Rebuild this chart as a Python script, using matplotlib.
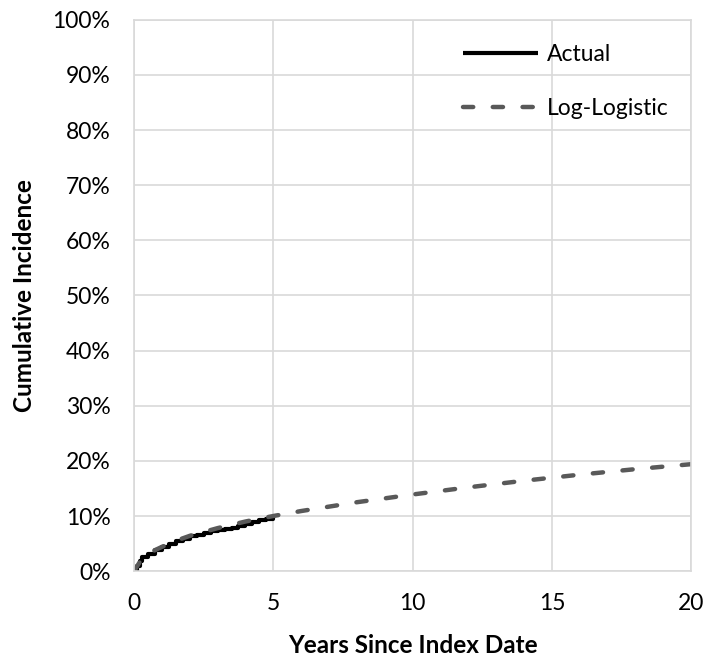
import numpy as np
import matplotlib.pyplot as plt
from matplotlib.ticker import PercentFormatter

plt.rcParams['font.family'] = ['Lato', 'DejaVu Sans']

# Observed cumulative incidence (years, %)
actual_years = [0, 0.1, 0.2, 0.3, 0.5, 0.75, 1.0, 1.25, 1.5, 1.75, 2.0, 2.25, 2.5,
                2.75, 3.0, 3.25, 3.5, 3.75, 4.0, 4.25, 4.5, 4.75, 5.0]
actual_pct = [0, 1.0, 1.8, 2.5, 3.1, 3.8, 4.3, 4.9, 5.4, 5.8, 6.3, 6.6, 6.9,
              7.2, 7.4, 7.7, 7.9, 8.2, 8.6, 8.9, 9.2, 9.4, 9.8]

# Fitted log-logistic extrapolation (years, %)
fit_years = [0, 0.25, 0.5, 1, 1.5, 2, 3, 4, 5, 6, 7, 8, 10, 12, 14, 16, 18, 20]
fit_pct = [0, 2.0, 3.2, 4.4, 5.5, 6.4, 7.8, 9.0, 10.0, 10.9, 11.7, 12.5,
           13.9, 15.2, 16.4, 17.5, 18.5, 19.4]

fig = plt.figure(figsize=(7.09, 6.58), dpi=100)
ax = fig.add_axes([0.189, 0.132, 0.786, 0.838])

ax.plot(actual_years, actual_pct, color='black', lw=3.0, label='Actual',
        drawstyle='steps-post', solid_capstyle='butt')
ax.plot(fit_years, fit_pct, color='#595959', lw=3.2, ls=(0, (2.3, 4.4)),
        label='Log-Logistic', dash_capstyle='round')

ax.set_xlim(0, 20)
ax.set_ylim(0, 100)
ax.set_xticks(np.arange(0, 21, 5))
ax.set_yticks(np.arange(0, 101, 10))
ax.yaxis.set_major_formatter(PercentFormatter(decimals=0))
ax.grid(True, color='#d9d9d9', lw=1.2)
ax.set_axisbelow(True)
ax.tick_params(length=0, labelsize=16.5)
ax.tick_params(axis='x', pad=16)
ax.tick_params(axis='y', pad=17)
for s in ax.spines.values():
    s.set_color('#d9d9d9')
    s.set_linewidth(1.2)

ax.set_xlabel('Years Since Index Date', fontsize=17.5, fontweight='bold', labelpad=14)
ax.set_ylabel('Cumulative Incidence', fontsize=17.5, fontweight='bold', labelpad=12)

ax.legend(loc='center left', bbox_to_anchor=(0.59, 0.888), frameon=False, fontsize=16.5,
          handlelength=3.3, handletextpad=0.35, labelspacing=1.4,
          borderpad=0, borderaxespad=0)

fig.savefig('out.png', dpi=100)
